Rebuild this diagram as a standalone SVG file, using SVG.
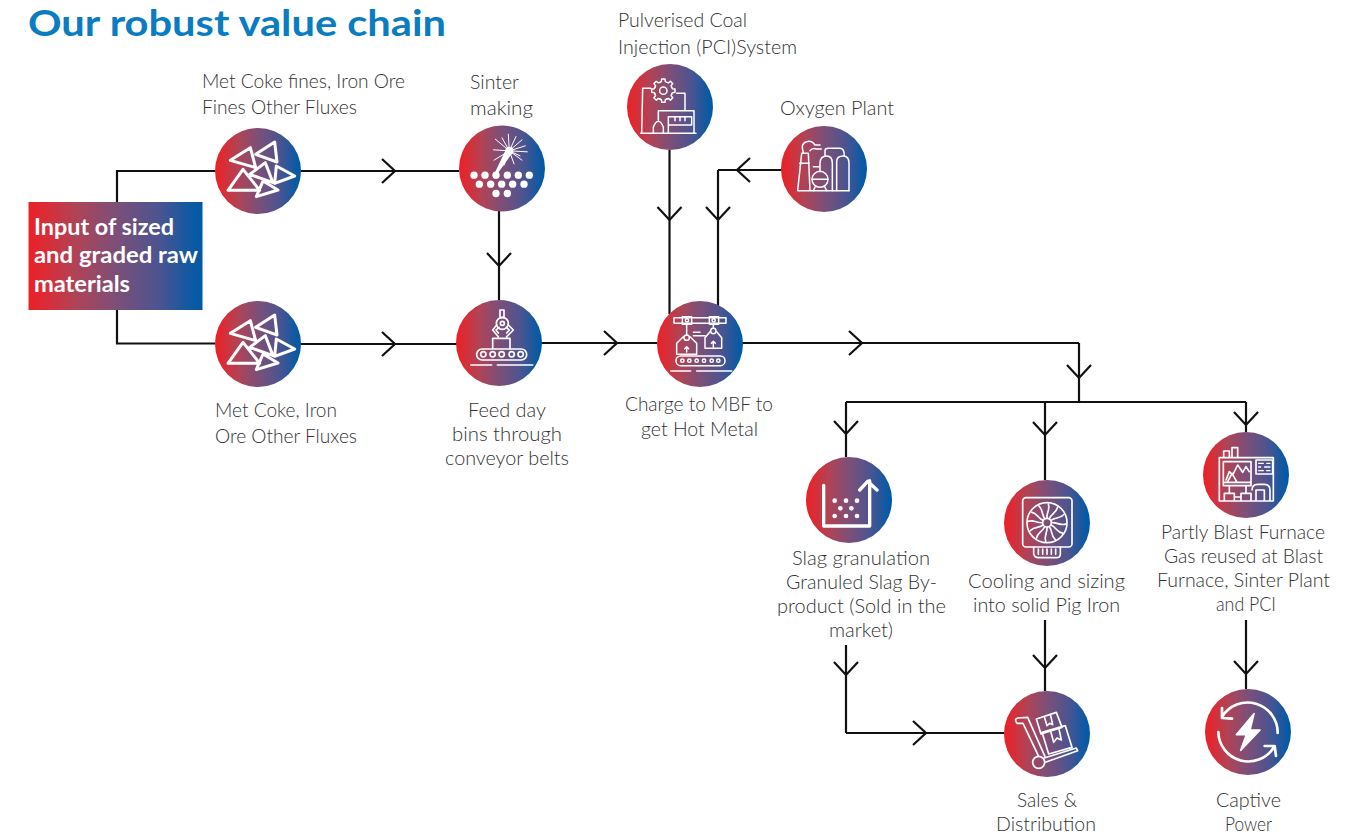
<svg xmlns="http://www.w3.org/2000/svg" width="1363" height="835" viewBox="0 0 1363 835">
<style>
text{font-family:"Lato","Open Sans","Liberation Sans",sans-serif}
.l{font-size:19.5px;font-weight:300;fill:#333}
.b{font-size:22.500px;font-weight:700;fill:#fff}
.t{font-size:36px;font-weight:700;fill:#0a7cc1}
.c{fill:none;stroke:#111;stroke-width:2.2;marker-mid:url(#chev)}
.p{fill:none;stroke:#111;stroke-width:2.2}
.i{fill:none;stroke:#fff;stroke-width:5;stroke-linejoin:round;stroke-linecap:round}
.w{fill:#fff;stroke:none}
.disc{fill:url(#g)}
</style>
<defs>
<linearGradient id="g" x1="0" y1="0" x2="1" y2="0">
<stop offset="0" stop-color="#ea2027"/><stop offset=".08" stop-color="#de2a33"/><stop offset=".27" stop-color="#b04356"/><stop offset=".5" stop-color="#7d4f78"/><stop offset=".75" stop-color="#4c5490"/><stop offset=".93" stop-color="#0f59a2"/><stop offset="1" stop-color="#0059a8"/>
</linearGradient>
<marker id="chev" markerUnits="userSpaceOnUse" markerWidth="30" markerHeight="30" refX="16" refY="15" orient="auto" overflow="visible">
<path d="M3,3 L16,15 L3,27" fill="none" stroke="#111" stroke-width="2.2"/>
</marker>
<path id="tris" class="i" style="stroke-width:9" d="M-83,-32L-23,-70L-7,-10ZM-7,-50L50,-87L57,-27ZM-90,58L-45,-5L5,58ZM-5,77L15,30L60,57ZM55,-15L110,15L50,37ZM-25,10L22,-25L45,35Z"/>
<path id="tooth" d="M-10.3,-25L-6,-27L-5,-35L5,-35L6,-27L10.3,-25"/>
<path id="blade" d="M0,-14C-2,-30 10,-40 4,-56"/>
</defs>

<g id="title"><text class="t" x="28" y="35.500" textLength="418" lengthAdjust="spacingAndGlyphs">Our robust value chain</text></g>

<g id="connectors">
<path class="p" d="M117,202V171H215"/>
<path class="p" d="M117,310V343.500H215"/>
<path class="c" d="M301,171H395H459"/>
<path class="c" d="M301,344H395H457"/>
<path class="c" d="M499,211V266V300"/>
<path class="c" d="M541,343H617H657"/>
<path class="c" d="M669.500,150V220V314"/>
<path class="c" d="M782,170H737H718"/>
<path class="c" d="M718,170V220V308"/>
<path class="c" d="M742,343H862H1079"/>
<path class="c" d="M1079,343V378V402"/>
<path class="p" d="M846,402H1246"/>
<path class="c" d="M846,402V434V457"/>
<path class="c" d="M1045,402V435V480"/>
<path class="c" d="M1246,402V425V432"/>
<path class="c" d="M846,645V675V733"/>
<path class="c" d="M846,733H926H1004"/>
<path class="c" d="M1045,620V668V691"/>
<path class="c" d="M1246,620V674V689"/>
</g>

<g id="input"><rect class="disc" x="28.500" y="202" width="174" height="108"/>
<text class="b" x="34" y="235" textLength="140" lengthAdjust="spacingAndGlyphs">Input of sized</text>
<text class="b" x="34" y="263" textLength="164" lengthAdjust="spacingAndGlyphs">and graded raw</text>
<text class="b" x="34" y="292" textLength="96" lengthAdjust="spacingAndGlyphs">materials</text></g>

<g id="metcokefines"><circle class="disc" cx="258" cy="171" r="43"/>
<use href="#tris" transform="translate(258,171) scale(.3333)"/>
<text class="l" x="202" y="88" textLength="203" lengthAdjust="spacingAndGlyphs">Met Coke fines, Iron Ore</text>
<text class="l" x="202" y="114" textLength="155" lengthAdjust="spacingAndGlyphs">Fines Other Fluxes</text></g>

<g id="metcoke"><circle class="disc" cx="258" cy="344" r="43"/>
<use href="#tris" transform="translate(258,344) scale(.3333)"/>
<text class="l" x="215" y="417" textLength="122" lengthAdjust="spacingAndGlyphs">Met Coke, Iron</text>
<text class="l" x="215" y="443" textLength="142" lengthAdjust="spacingAndGlyphs">Ore Other Fluxes</text></g>

<g id="sinter"><circle class="disc" cx="502" cy="168.500" r="43"/>
<g transform="translate(502,168.500) scale(.3333)">
<g class="w"><circle cx="-84" cy="20" r="11"/><circle cx="-51" cy="20" r="11"/><circle cx="-18" cy="20" r="11"/><circle cx="16" cy="20" r="11"/><circle cx="49" cy="20" r="11"/><circle cx="82" cy="20" r="11"/><circle cx="-68" cy="47" r="11"/><circle cx="-34" cy="47" r="11"/><circle cx="-1" cy="47" r="11"/><circle cx="32" cy="47" r="11"/><circle cx="66" cy="47" r="11"/><circle cx="-18" cy="75" r="11"/><circle cx="16" cy="75" r="11"/></g>
<path class="i" style="stroke-width:3" d="M22,-53L19,-103M22,-53L60,-86M22,-53L76,-50M22,-53L60,-25M22,-53L36,-14M22,-53L6,-10M22,-53L-24,-25M22,-53L-26,-56M22,-53L-20,-88M22,-53L0,-92M22,-53L42,-96M22,-53L70,-68M22,-53L54,-38"/>
<circle class="w" cx="22" cy="-53" r="12"/>
<path class="w" d="M12,-58L32,-48L-18,22L-24,18Z"/>
</g></g>

<g id="feed"><circle class="disc" cx="499" cy="343" r="43"/>
<g class="i" transform="translate(499,343) scale(.3333)">
<rect x="3" y="-99" width="12" height="23"/><circle cx="10" cy="-59" r="18"/><circle cx="10" cy="-59" r="6"/>
<path d="M-7,-54L-19,-39L-2,-19M-2,-30L-9,-39L0,-47M28,-54L43,-39L23,-19M23,-30L31,-39L22,-47M-19,16V-14H33V16"/>
<rect x="-67" y="18" width="150" height="33" rx="16"/><circle cx="-47" cy="34" r="8"/><circle cx="-19" cy="34" r="8"/><circle cx="8" cy="34" r="8"/><circle cx="38" cy="34" r="8"/><circle cx="65" cy="34" r="8"/>
<path d="M-85,66H-22M-5,66H101"/>
</g></g>

<g id="pci"><circle class="disc" cx="670" cy="107" r="43"/>
<g class="i" style="stroke-width:4.500" transform="translate(670,107) scale(.3333)">
<g transform="translate(-20,-49)"><use href="#tooth"/><use href="#tooth" transform="rotate(45)"/><use href="#tooth" transform="rotate(90)"/><use href="#tooth" transform="rotate(135)"/><use href="#tooth" transform="rotate(180)"/><use href="#tooth" transform="rotate(225)"/><use href="#tooth" transform="rotate(270)"/><use href="#tooth" transform="rotate(315)"/><circle r="11"/></g>
<path d="M-85,79L-82,-56H-58M20,-41H45V11M-35,39V11H72V79M-5,29H65V54H-5ZM15,29V41M30,29V41M45,29V41M-5,54V79M-50,79V60Q-35,25 -20,60V79M-88,79H78"/>
</g></g>

<g id="oxygen"><circle class="disc" cx="824" cy="169" r="43"/>
<g class="i" style="stroke-width:4.500" transform="translate(824,169) scale(.3333)">
<path d="M-79,65L-67,-47H-47L-42,65M-73,-17H-44M-79,65H75M-62,-49Q-72,-77 -52,-82Q-37,-87 -27,-72H-12M-42,-55Q-35,-65 -22,-60H-8"/>
<path d="M-12,8V-17Q-12,-39 8,-39Q25,-39 25,-17V65M38,65V-22Q38,-39 58,-39Q75,-39 75,-17V65M3,-39V-55Q3,-62 13,-62H48Q61,-62 61,-39M-12,8V-7H-32"/>
<circle cx="-12" cy="31" r="24"/><path d="M-35,31H11M-32,65L-25,51M8,65L1,51"/>
</g></g>

<g id="charge"><circle class="disc" cx="700" cy="344" r="43"/>
<g class="i" style="stroke-width:4.500" transform="translate(700,344) scale(.3333)">
<rect x="-78" y="-79" width="156" height="17"/><rect x="-53" y="-82" width="28" height="23"/><rect x="28" y="-82" width="28" height="23"/><circle cx="-39" cy="-71" r="5"/><circle cx="41" cy="-71" r="5"/>
<path d="M-40,-59V-27M-50,-22L-70,-2V31H-10V-2L-30,-22M40,-59V-47M30,-37L15,-19V13H65V-19L50,-37M-40,24V8M-46,14L-40,8L-34,14M40,8V-8M34,-2L40,-8L46,-2M-20,-35H0M-20,-25H15"/>
<circle cx="-40" cy="-19" r="8"/><circle cx="40" cy="-39" r="8"/>
<rect x="-72" y="36" width="147" height="29" rx="14"/><circle cx="-53" cy="50" r="5"/><circle cx="-32" cy="50" r="5"/><circle cx="-10" cy="50" r="5"/><circle cx="12" cy="50" r="5"/><circle cx="35" cy="50" r="5"/><circle cx="55" cy="50" r="5"/>
<path d="M-88,81H-28M-10,81H95"/>
</g></g>

<g id="slag"><circle class="disc" cx="849" cy="500" r="43"/>
<g transform="translate(849,500) scale(.3333)">
<path class="i" style="stroke-width:10" d="M-76,-44V78H62V-58M32,-30L56,-56L84,-30"/>
<g class="w"><circle cx="-43" cy="2" r="7"/><circle cx="-9" cy="2" r="7"/><circle cx="24" cy="2" r="7"/><circle cx="-26" cy="25" r="7"/><circle cx="7" cy="25" r="7"/><circle cx="-43" cy="48" r="7"/><circle cx="-9" cy="48" r="7"/><circle cx="24" cy="48" r="7"/></g>
</g></g>

<g id="cooling"><circle class="disc" cx="1047" cy="523" r="43"/>
<g class="i" style="stroke-width:5" transform="translate(1047,523) scale(.3333)">
<rect x="-73" y="-76" width="148" height="148" rx="10"/><circle cy="-1" r="60"/><circle cy="-1" r="13"/>
<g transform="translate(0,-1)"><use href="#blade"/><use href="#blade" transform="rotate(30)"/><use href="#blade" transform="rotate(60)"/><use href="#blade" transform="rotate(90)"/><use href="#blade" transform="rotate(120)"/><use href="#blade" transform="rotate(150)"/><use href="#blade" transform="rotate(180)"/><use href="#blade" transform="rotate(210)"/><use href="#blade" transform="rotate(240)"/><use href="#blade" transform="rotate(270)"/><use href="#blade" transform="rotate(300)"/><use href="#blade" transform="rotate(330)"/></g>
<path d="M-40,72V92Q-38,104 -26,104H28Q40,104 40,92V72M-26,78V94M-13,78V94M0,78V94M13,78V94M26,78V94"/>
</g></g>

<g id="gas"><circle class="disc" cx="1246" cy="475" r="43"/>
<g class="i" style="stroke-width:5" transform="translate(1246,475) scale(.3333)">
<path d="M-80,-52H82V78H-80ZM-67,-52V-72H-50V-52M-42,-52V-82H-25V-52M-68,-40H15V22H-68ZM-68,22H15V32H-68ZM-50,32V55M0,32V55M-65,78V55H-35V78M-15,78V55H15V78M-35,66H-15M-60,15L-50,-10L-40,0L-25,-30L-10,-8L0,-25L10,-10M-55,20L-42,-5L-28,20M30,-45H80V-3H30ZM18,45Q18,28 35,28H55Q72,28 72,45V78M30,78V45H55V78"/>
<path style="stroke-width:4" d="M38,-35H52M62,-35H72M38,-24H44M56,-24H72M38,-13H52M62,-13H72"/>
</g></g>

<g id="sales"><circle class="disc" cx="1047" cy="734" r="43"/>
<g class="i" style="stroke-width:5" transform="translate(1047,734) scale(.3333)">
<path d="M-90,-32Q-100,-45 -88,-48L-58,-50L-5,70M-90,-32H-72L-25,67M-8,72L88,42L92,50L-5,85M-15,-5L55,-25L75,40L5,60ZM-32,-45L28,-65L45,-20L-18,0ZM10,-12L20,25L30,12L43,18L35,-20M-8,-52L0,-25L8,-32L17,-28L10,-60"/>
<circle cx="-25" cy="85" r="18"/>
</g></g>

<g id="captive"><circle class="disc" cx="1248" cy="732" r="43"/>
<g class="i" style="stroke-width:8" transform="translate(1248,732) scale(.3333)">
<path d="M89,3A90,90 0 0 0 -78,-45M-78,-72V-42L-48,-40M-89,0A90,90 0 0 0 78,45M50,42L80,42L84,72"/>
<path style="stroke-width:5;fill:#fff" d="M18,-55L-35,8H-5L-22,55L36,-6H6Z"/>
</g></g>

<g id="labels">
<text class="l" x="470" y="89" textLength="49" lengthAdjust="spacingAndGlyphs">Sinter</text>
<text class="l" x="470" y="115" textLength="63" lengthAdjust="spacingAndGlyphs">making</text>
<text class="l" x="618" y="27" textLength="129" lengthAdjust="spacingAndGlyphs">Pulverised Coal</text>
<text class="l" x="618" y="54" textLength="179" lengthAdjust="spacingAndGlyphs">Injection (PCI)System</text>
<text class="l" x="780" y="115" textLength="114" lengthAdjust="spacingAndGlyphs">Oxygen Plant</text>
<text class="l" x="468" y="417" textLength="78" lengthAdjust="spacingAndGlyphs">Feed day</text>
<text class="l" x="452" y="441" textLength="110" lengthAdjust="spacingAndGlyphs">bins through</text>
<text class="l" x="445" y="465" textLength="124" lengthAdjust="spacingAndGlyphs">conveyor belts</text>
<text class="l" x="625" y="411" textLength="148" lengthAdjust="spacingAndGlyphs">Charge to MBF to</text>
<text class="l" x="641" y="436" textLength="117" lengthAdjust="spacingAndGlyphs">get Hot Metal</text>
<text class="l" x="792" y="565" textLength="138" lengthAdjust="spacingAndGlyphs">Slag granulation</text>
<text class="l" x="786" y="589" textLength="151" lengthAdjust="spacingAndGlyphs">Granuled Slag By-</text>
<text class="l" x="777" y="613" textLength="169" lengthAdjust="spacingAndGlyphs">product (Sold in the</text>
<text class="l" x="829" y="637" textLength="64" lengthAdjust="spacingAndGlyphs">market)</text>
<text class="l" x="968" y="588" textLength="157" lengthAdjust="spacingAndGlyphs">Cooling and sizing</text>
<text class="l" x="973" y="612" textLength="147" lengthAdjust="spacingAndGlyphs">into solid Pig Iron</text>
<text class="l" x="1161" y="539" textLength="164" lengthAdjust="spacingAndGlyphs">Partly Blast Furnace</text>
<text class="l" x="1164" y="563" textLength="159" lengthAdjust="spacingAndGlyphs">Gas reused at Blast</text>
<text class="l" x="1157" y="587" textLength="173" lengthAdjust="spacingAndGlyphs">Furnace, Sinter Plant</text>
<text class="l" x="1216" y="611" textLength="60" lengthAdjust="spacingAndGlyphs">and PCI</text>
<text class="l" x="1017" y="807" textLength="60" lengthAdjust="spacingAndGlyphs">Sales &amp;</text>
<text class="l" x="996" y="830.500" textLength="100" lengthAdjust="spacingAndGlyphs">Distribution</text>
<text class="l" x="1216" y="807" textLength="65" lengthAdjust="spacingAndGlyphs">Captive</text>
<text class="l" x="1225" y="830.500" textLength="47" lengthAdjust="spacingAndGlyphs">Power</text>
</g>
</svg>
